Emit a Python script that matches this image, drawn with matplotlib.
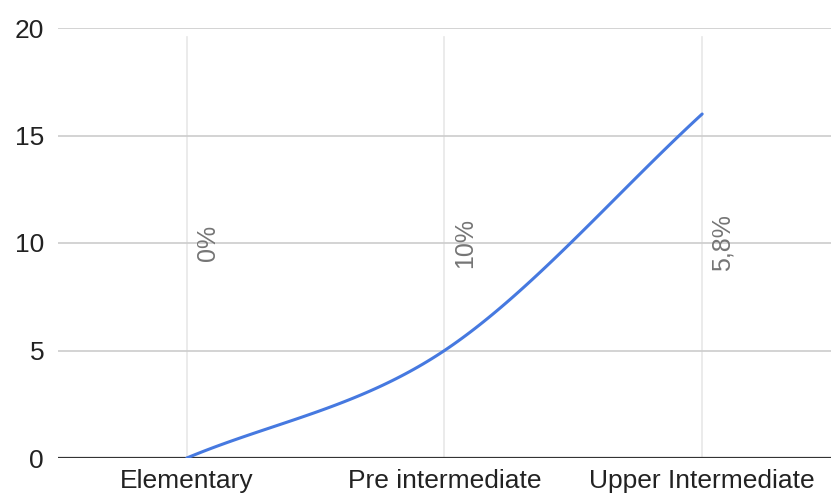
import numpy as np
import matplotlib.pyplot as plt

plt.rcParams['font.family'] = ['Liberation Sans', 'DejaVu Sans']

niveis = ["Elementary", "Pre intermediate", "Upper Intermediate"]
valores = [0, 5, 16]
rotulos = ["0%", "10%", "5,8%"]
rotulo_y = [10, 10, 10]


def suavizar(xs, ys, n=60):
    # curva Catmull-Rom passando pelos pontos
    xs = np.asarray(xs, float)
    ys = np.asarray(ys, float)
    px = np.concatenate([[2 * xs[0] - xs[1]], xs, [2 * xs[-1] - xs[-2]]])
    py = np.concatenate([[2 * ys[0] - ys[1]], ys, [2 * ys[-1] - ys[-2]]])
    out_x, out_y = [], []
    for i in range(1, len(px) - 2):
        t = np.linspace(0, 1, n)
        for p, out in ((px, out_x), (py, out_y)):
            p0, p1, p2, p3 = p[i - 1], p[i], p[i + 1], p[i + 2]
            out.extend(0.5 * (2 * p1 + (-p0 + p2) * t
                              + (2 * p0 - 5 * p1 + 4 * p2 - p3) * t ** 2
                              + (-p0 + 3 * p1 - 3 * p2 + p3) * t ** 3))
    return np.array(out_x), np.array(out_y)


fig = plt.figure(figsize=(8.31, 4.96), dpi=100)
ax = fig.add_axes([58 / 831, 38 / 496, 1 - 58 / 831, 430 / 496])

pos = np.arange(len(niveis))
cx, cy = suavizar(pos, valores)
ax.plot(cx, cy, color="#4679e0", linewidth=2.2, solid_capstyle="round", zorder=3)

for y in [5, 10, 15, 20]:
    ax.axhline(y, color="#cccccc", linewidth=1.2, zorder=1)
ax.axhline(0, color="#333333", linewidth=1.6, zorder=2)
for x in pos:
    ax.axvline(x, ymax=0.979, color="#e8e8e8", linewidth=1.2, zorder=0)

for x, y, txt in zip(pos, rotulo_y, rotulos):
    ax.annotate(txt, (x, y), xytext=(15, 0), textcoords="offset points",
                rotation=90, ha="center", va="center", color="#757575", fontsize=18)

ax.set_xlim(-0.5, 2.5)
ax.set_ylim(0, 20)
ax.set_xticks(pos)
ax.set_xticklabels(niveis)
ax.set_yticks([0, 5, 10, 15, 20])
ax.tick_params(length=0, labelsize=19, colors="#222222")
ax.tick_params(axis="y", pad=10)
ax.tick_params(axis="x", pad=8)
for s in ax.spines.values():
    s.set_visible(False)

plt.savefig("out.png", dpi=100)
